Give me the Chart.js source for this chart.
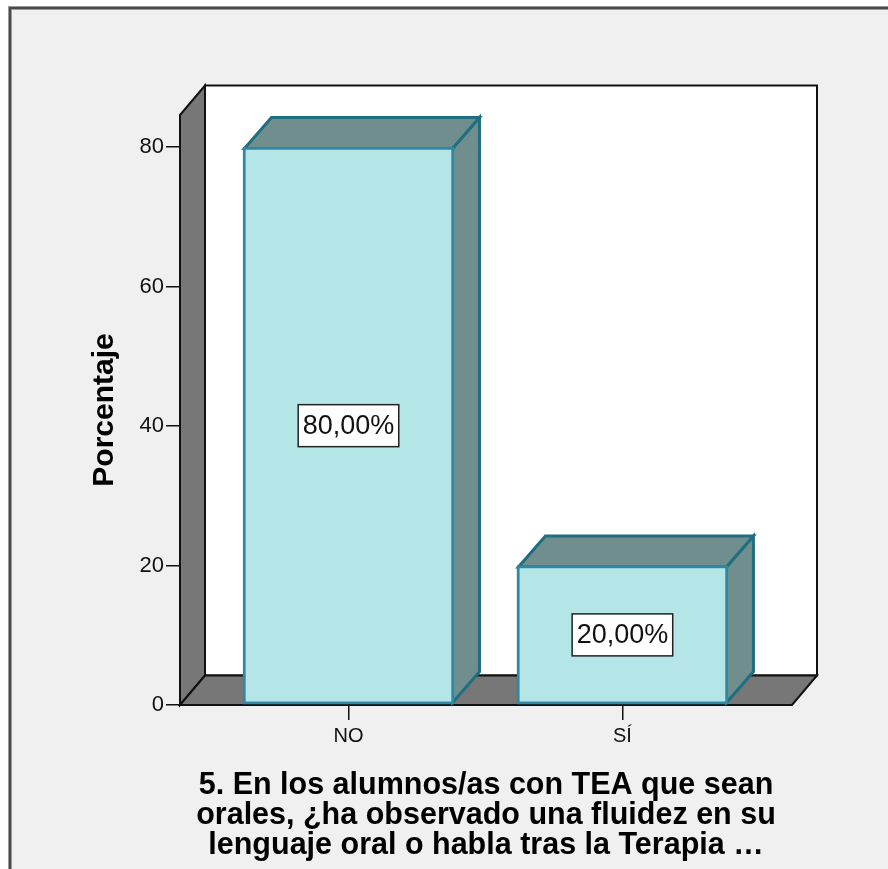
<!DOCTYPE html>
<html>
<head>
<meta charset="utf-8">
<script src="https://cdn.jsdelivr.net/npm/chart.js@4.4.1/dist/chart.umd.min.js"></script>
<style>
  html, body { margin: 0; padding: 0; background: #ffffff; overflow: hidden; }
  canvas { display: block; }
</style>
</head>
<body>
<canvas id="chart" width="888" height="869"></canvas>
<script>
// Response categories and their percentages
const categories = ['NO', 'SÍ'];
const percentages = [80, 20];
const yTickValues = [0, 20, 40, 60, 80];
const yAxisTitle = 'Porcentaje';
const xAxisTitle = [
  '5. En los alumnos/as con TEA que sean',
  'orales, ¿ha observado una fluidez en su',
  'lenguaje oral o habla tras la Terapia …'
];

const FONT = '"Liberation Sans", Arial, Helvetica, sans-serif';
const FRONT_FILL = '#b4e6e8';
const FRONT_EDGE = '#2f88a4';
const FACE_FILL = '#6f8e8d';
const FACE_EDGE = '#1f6e82';
const WALL_FILL = '#777777';
const WALL_DEPTH = { dx: 25, dy: -29.5 };
const BAR_DEPTH = { dx: 27, dy: -31 };

function poly(ctx, pts) {
  ctx.beginPath();
  ctx.moveTo(pts[0][0], pts[0][1]);
  for (let i = 1; i < pts.length; i++) ctx.lineTo(pts[i][0], pts[i][1]);
  ctx.closePath();
}

// Light grey panel with its frame
const panelBackground = {
  id: 'panelBackground',
  beforeDraw(chart) {
    const { ctx, width, height } = chart;
    ctx.save();
    ctx.fillStyle = '#ffffff';
    ctx.fillRect(0, 0, width, height);
    ctx.fillStyle = '#f0f0f0';
    ctx.fillRect(10, 8, width - 10, height - 8);
    ctx.strokeStyle = '#9a9a9a';
    ctx.lineWidth = 4;
    ctx.beginPath();
    ctx.moveTo(10, height); ctx.lineTo(10, 8); ctx.lineTo(width, 8);
    ctx.stroke();
    ctx.strokeStyle = '#4a4a4a';
    ctx.lineWidth = 2;
    ctx.beginPath();
    ctx.moveTo(10, height); ctx.lineTo(10, 8); ctx.lineTo(width, 8);
    ctx.stroke();
    ctx.restore();
  }
};

// Back wall, side wall and floor of the 3D box, then the hidden faces of the bars
const box3d = {
  id: 'box3d',
  beforeDatasetsDraw(chart) {
    const { ctx, chartArea: a } = chart;
    const { dx, dy } = WALL_DEPTH;
    const L = a.left, R = a.right, T = a.top, B = a.bottom;
    ctx.save();
    ctx.lineJoin = 'miter';
    ctx.strokeStyle = '#111111';
    ctx.lineWidth = 2;

    ctx.fillStyle = '#ffffff';
    poly(ctx, [[L + dx, T + dy], [R + dx, T + dy], [R + dx, B + dy], [L + dx, B + dy]]);
    ctx.fill(); ctx.stroke();

    ctx.fillStyle = WALL_FILL;
    poly(ctx, [[L, T], [L + dx, T + dy], [L + dx, B + dy], [L, B]]);
    ctx.fill(); ctx.stroke();

    poly(ctx, [[L, B], [L + dx, B + dy], [R + dx, B + dy], [R, B]]);
    ctx.fill(); ctx.stroke();

    // top and side faces of each bar
    const meta = chart.getDatasetMeta(0);
    const bx = BAR_DEPTH.dx, by = BAR_DEPTH.dy;
    ctx.fillStyle = FACE_FILL;
    ctx.strokeStyle = FACE_EDGE;
    ctx.lineWidth = 3;
    meta.data.forEach(el => {
      const { x, y, base, width } = el.getProps(['x', 'y', 'base', 'width'], true);
      const l = x - width / 2 + 1.5, r = x + width / 2 - 1.5;
      const t = y + 1.5, b = base - 1.5;
      poly(ctx, [[r, t], [r + bx, t + by], [r + bx, b + by], [r, b]]);
      ctx.fill(); ctx.stroke();
      poly(ctx, [[l, t], [l + bx, t + by], [r + bx, t + by], [r, t]]);
      ctx.fill(); ctx.stroke();
    });
    ctx.restore();
  }
};

// Boxed percentage label in the middle of each bar
const valueLabels = {
  id: 'valueLabels',
  afterDatasetsDraw(chart) {
    const { ctx } = chart;
    const meta = chart.getDatasetMeta(0);
    ctx.save();
    ctx.font = '27px ' + FONT;
    ctx.textAlign = 'center';
    ctx.textBaseline = 'middle';
    meta.data.forEach((el, i) => {
      const { x, y, base } = el.getProps(['x', 'y', 'base'], true);
      const cy = (y + base) / 2;
      const text = percentages[i].toFixed(2).replace('.', ',') + '%';
      const w = ctx.measureText(text).width + 9;
      const h = 42;
      ctx.fillStyle = '#ffffff';
      ctx.fillRect(x - w / 2, cy - h / 2, w, h);
      ctx.strokeStyle = '#222222';
      ctx.lineWidth = 1.5;
      ctx.strokeRect(x - w / 2, cy - h / 2, w, h);
      ctx.fillStyle = '#111111';
      ctx.fillText(text, x, cy + 1);
    });
    ctx.restore();
  }
};

new Chart(document.getElementById('chart'), {
  type: 'bar',
  data: {
    datasets: [{
      data: categories.map((c, i) => ({ x: i, y: percentages[i] })),
      backgroundColor: FRONT_FILL,
      borderColor: FRONT_EDGE,
      borderWidth: 3,
      borderSkipped: false,
      barThickness: 211
    }]
  },
  options: {
    responsive: false,
    animation: false,
    events: [],
    layout: { padding: { top: 115, right: 96, left: 0, bottom: 0 } },
    plugins: { legend: { display: false }, tooltip: { enabled: false } },
    scales: {
      x: {
        type: 'linear',
        min: -0.615,
        max: 1.619,
        offset: false,
        afterBuildTicks(scale) { scale.ticks = categories.map((c, i) => ({ value: i })); },
        afterFit(scale) { scale.height = 164; },
        border: { display: false },
        grid: { offset: false, drawOnChartArea: false, drawTicks: true, tickLength: 15, color: '#111111', lineWidth: 1.5 },
        ticks: {
          color: '#111111',
          font: { family: FONT, size: 20 },
          padding: 4,
          maxRotation: 0,
          autoSkip: false,
          callback: v => categories[v]
        },
        title: {
          display: true,
          text: xAxisTitle,
          color: '#000000',
          font: { family: FONT, size: 30.5, weight: 'bold', lineHeight: 0.97 },
          padding: { top: 0, bottom: 9 }
        }
      },
      y: {
        type: 'linear',
        min: 0,
        max: 84.6,
        afterBuildTicks(scale) { scale.ticks = yTickValues.map(v => ({ value: v })); },
        afterFit(scale) { scale.width = 180; },
        border: { display: false },
        grid: { drawOnChartArea: false, drawTicks: true, tickLength: 14, color: '#111111', lineWidth: 1.5 },
        ticks: { color: '#111111', font: { family: FONT, size: 22 }, padding: 2 },
        title: {
          display: true,
          text: yAxisTitle,
          color: '#000000',
          font: { family: FONT, size: 30, weight: 'bold', lineHeight: 1.2 },
          padding: { top: 87, bottom: 0 }
        }
      }
    }
  },
  plugins: [panelBackground, box3d, valueLabels]
});
</script>
</body>
</html>
